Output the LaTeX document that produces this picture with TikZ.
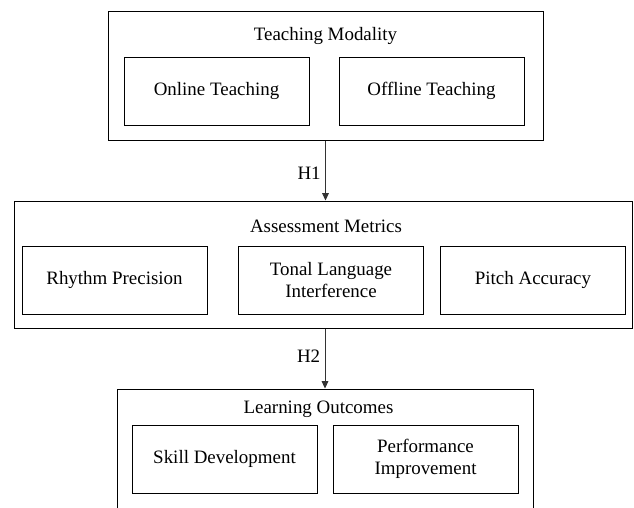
\documentclass[tikz,border=0pt]{standalone}
\usepackage{fontspec}
\setmainfont{Liberation Serif}
\usepackage{tikz}
\usetikzlibrary{arrows.meta, positioning, fit}

\begin{document}
\begin{tikzpicture}[
    x=0.75pt, y=-0.75pt,
    group/.style={draw, line width=0.75pt, inner sep=0pt},
    box/.style={draw, line width=0.75pt, minimum width=138.75pt, minimum height=51pt, align=center, inner sep=2pt},
    title/.style={inner sep=1pt},
    hyp/.style={-{Triangle[length=5.5pt, width=5pt]}, line width=0.6pt, draw=black!80},
    font=\fontsize{14.2pt}{16.5pt}\selectfont
]
    \path[use as bounding box, clip] (0,0) rectangle (634,507);

    % top group
    \node[group, fit={(108,11) (543,140)}] (tm) {};
    \node[title] (tmtitle) at (325.5,36) {Teaching Modality};
    \node[box] (online) at (216.5,91) {Online Teaching};
    \node[box] (offline) at (431.5,91) {Offline Teaching};

    % middle group
    \node[group, fit={(14,201) (632,328)}] (am) {};
    \node[title] (amtitle) at (326,226) {Assessment Metrics};
    \node[box] (rhythm) at (114.5,280) {Rhythm Precision};
    \node[box] (tonal) at (331,280) {Tonal Language\\Interference};
    \node[box] (pitch) at (533,280) {Pitch Accuracy};

    % bottom group (runs off the page)
    \node[group, fit={(117,389) (533,530)}] (lo) {};
    \node[title] (lotitle) at (318.5,409) {Learning Outcomes};
    \node[box] (skill) at (224.5,459) {Skill Development};
    \node[box] (perf) at (425.5,459) {Performance\\Improvement};

    \draw[hyp] (tm.south) -- node[left, pos=0.55] {H1} (tm.south |- am.north);
    \draw[hyp] (lo.north |- am.south) -- node[left, pos=0.47] {H2} (lo.north);
\end{tikzpicture}
\end{document}
